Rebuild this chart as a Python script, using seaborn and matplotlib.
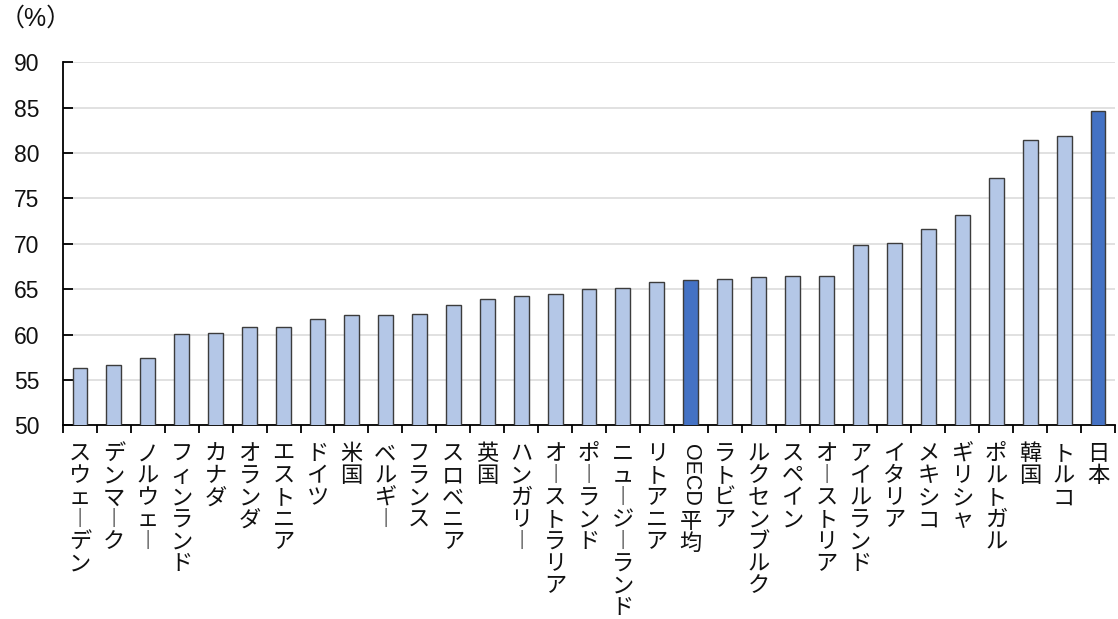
import matplotlib
matplotlib.use("Agg")
import matplotlib.pyplot as plt
import seaborn as sns
import pandas as pd
from matplotlib.transforms import blended_transform_factory, offset_copy

# Share (%) by country, sorted ascending, with the OECD average in place
countries = [
    "スウェーデン", "デンマーク", "ノルウェー", "フィンランド", "カナダ", "オランダ",
    "エストニア", "ドイツ", "米国", "ベルギー", "フランス", "スロベニア", "英国",
    "ハンガリー", "オーストラリア", "ポーランド", "ニュージーランド", "リトアニア",
    "OECD平均", "ラトビア", "ルクセンブルク", "スペイン", "オーストリア",
    "アイルランド", "イタリア", "メキシコ", "ギリシャ", "ポルトガル", "韓国",
    "トルコ", "日本",
]
values = [
    56.3, 56.6, 57.4, 60.1, 60.2, 60.8, 60.8, 61.7, 62.1, 62.2, 62.3, 63.3, 63.9,
    64.3, 64.5, 65.0, 65.1, 65.8, 66.0, 66.1, 66.3, 66.5, 66.5, 69.9, 70.1, 71.6,
    73.2, 77.3, 81.4, 81.9, 84.6,
]
highlighted = ["OECD平均", "日本"]
y_ticks = [50, 55, 60, 65, 70, 75, 80, 85, 90]
unit_label = "（%）"

df = pd.DataFrame({"country": countries, "value": values})
df["group"] = ["hi" if c in highlighted else "base" for c in countries]

sns.set_theme(style="white")
plt.rcParams["font.family"] = ["Liberation Sans", "Noto Sans CJK JP", "DejaVu Sans"]

W, H = 1118, 619
fig = plt.figure(figsize=(W / 100, H / 100), dpi=100)
ax = fig.add_axes([63 / W, 1 - 425.3 / H, (1115 - 63) / W, (425.3 - 62.3) / H])

sns.barplot(
    data=df, x="country", y="value", hue="group", order=countries,
    palette={"base": "#b4c7e7", "hi": "#4472c4"}, dodge=False, width=0.44,
    saturation=1, edgecolor="#3c3c3c", linewidth=1.0, legend=False, ax=ax,
    zorder=3,
)

ax.set_ylim(y_ticks[0], y_ticks[-1])
ax.set_xlim(-0.5, len(countries) - 0.5)
ax.set_yticks(y_ticks)
ax.set_yticklabels([str(t) for t in y_ticks])
ax.set_xlabel("")
ax.set_ylabel("")

ax.set_axisbelow(True)
ax.yaxis.grid(True, color="#dcdcdc", linewidth=1.2)
ax.xaxis.grid(False)
for side in ("top", "right"):
    ax.spines[side].set_visible(False)
for side in ("left", "bottom"):
    ax.spines[side].set_color("black")
    ax.spines[side].set_linewidth(1.3)

ax.tick_params(axis="y", direction="in", length=7, width=1.3, color="black",
               labelsize=16.5, pad=17, labelcolor="#111111", left=True)
ax.set_xticks(range(len(countries)))
ax.set_xticklabels([])
ax.tick_params(axis="x", which="major", length=0)
ax.set_xticks([i - 0.5 for i in range(len(countries) + 1)], minor=True)
ax.tick_params(axis="x", which="minor", direction="out", length=6, width=1.3,
               color="black", bottom=True)

# Vertical (tategaki) category labels
vertical_forms = {"ー": "︱"}


def stack(text):
    return "\n".join(vertical_forms.get(ch, ch) for ch in text)


base = blended_transform_factory(ax.transData, ax.transAxes)
label_tr = offset_copy(base, fig=fig, x=0, y=-17, units="dots")
jp = ["Noto Sans CJK JP", "DejaVu Sans"]
for i, name in enumerate(countries):
    if name.startswith("OECD"):
        ax.text(i, 0, "OECD", transform=offset_copy(base, fig=fig, x=0, y=-19, units="dots"),
                rotation=-90, ha="center", va="top", fontsize=15.5,
                family="Liberation Sans", color="#111111")
        tr2 = offset_copy(base, fig=fig, x=0, y=-85, units="dots")
        ax.text(i, 0, stack(name[4:]), transform=tr2, ha="center", va="top",
                fontsize=16, family=jp, linespacing=0.945, color="#111111")
    else:
        ax.text(i, 0, stack(name), transform=label_tr, ha="center", va="top",
                fontsize=16, family=jp, linespacing=0.945, color="#111111")

fig.text(0, 1 - 19 / H, unit_label, ha="left", va="center", fontsize=18,
         color="#111111")

fig.savefig("out.png", dpi=100, facecolor="white")
